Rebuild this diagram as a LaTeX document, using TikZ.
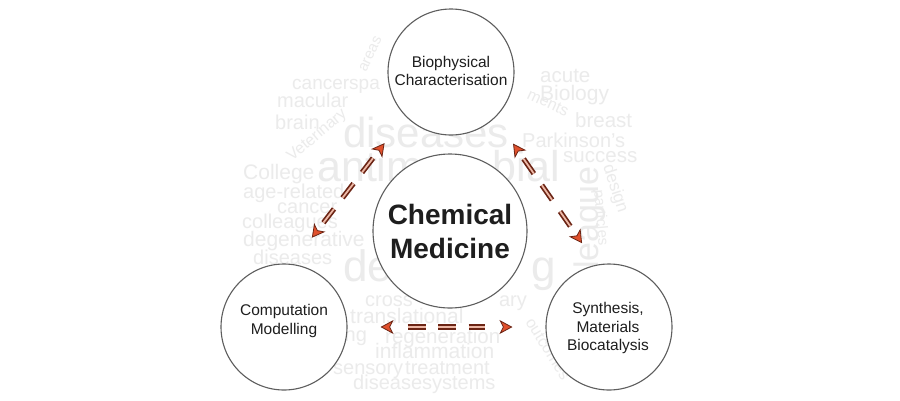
\documentclass[tikz,border=0pt]{standalone}
\usepackage{fontspec}
\setmainfont{Liberation Sans}
\usetikzlibrary{arrows.meta}
\definecolor{cloud}{HTML}{EBEBEB}
\definecolor{ring}{HTML}{5E5E5E}
\definecolor{arrowdark}{HTML}{6B2414}
\definecolor{arrowred}{HTML}{E0502C}
\definecolor{dashin}{HTML}{EDB8A6}
\definecolor{txt}{HTML}{1E1E1E}
\begin{document}
\begin{tikzpicture}[x=1pt,y=-1pt,
  word/.style={anchor=base west, inner sep=0pt, text=cloud, font=\fontsize{#1}{#1}\selectfont},
  wordend/.style={anchor=base east, inner sep=0pt, text=cloud, font=\fontsize{#1}{#1}\selectfont},
  bubble/.style={circle, draw=ring, fill=white, line width=1.1pt, inner sep=0pt, minimum size=126pt},
  smalltext/.style={align=center, text=txt, inner sep=0pt, font=\fontsize{15.5}{18.5}\selectfont},
  bigtext/.style={align=center, text=txt, inner sep=0pt, font=\bfseries\fontsize{28}{34}\selectfont},
  tips/.style={draw=arrowdark, line width=0.8pt, dash pattern=on 0pt off 2000pt,
    {Stealth[length=13pt,width=14pt,inset=3.5pt,fill=arrowred,color=arrowdark,line width=0.8pt]}-{Stealth[length=13pt,width=14pt,inset=3.5pt,fill=arrowred,color=arrowdark,line width=0.8pt]}},
  dashline/.style={draw=arrowdark, line width=1.7pt, double=dashin, double distance=1.8pt, line cap=butt}
]
\fill[white] (0,0) rectangle (900,400);
\useasboundingbox (0,0) rectangle (900,400);

% word cloud background
\node[word=15, rotate=65] (w1) at (366,73) {areas};
\node[word=19] (w2) at (292,89) {cancerspa};
\node[word=20] (w3) at (277,107) {macular};
\node[word=20] (w4) at (275,129) {brain};
\node[word=16, rotate=40] (w5) at (292,162) {Veterinary};
\node[word=42] (w6) at (343,147) {diseases};
\node[word=43] (w7) at (317,181) {antim};
\node[wordend=43] (w7b) at (560,181) {bial};
\node[word=21] (w8) at (243,179) {College};
\node[word=20] (w9) at (243,198) {age-related};
\node[word=20] (w10) at (277,213) {cancer};
\node[word=20] (w11) at (242,228) {colleagues};
\node[word=21] (w12) at (243,246) {degenerative};
\node[word=20] (w13) at (253,264) {diseases};
\node[word=20.5] (w14) at (540,82) {acute};
\node[word=21] (w15) at (540,100) {Biology};
\node[word=16, rotate=-25] (w16) at (526,98) {ments};
\node[word=20.5] (w17) at (575,127) {breast};
\node[word=20] (w18) at (522,147) {Parkinson's};
\node[word=20.5] (w19) at (563,162) {success};
\node[word=34, rotate=90] (w20) at (598,269) {league};
\node[word=17, rotate=-72] (w21) at (603,166) {design};
\node[word=15, rotate=-85] (w22) at (594,190) {particles};
\node[word=44] (w23) at (343,281) {de};
\node[wordend=44] (w23b) at (556,281) {g};
\node[word=20] (w24) at (365,306) {cross};
\node[wordend=20] (w24b) at (527,306) {ary};
\node[word=21] (w25) at (350,323) {translational};
\node[word=20] (w26) at (340,341) {ing};
\node[word=20.5] (w27) at (385,343) {regeneration};
\node[word=21] (w28) at (375,358) {inflammation};
\node[word=20] (w29) at (333,374) {sensory};
\node[word=20] (w30) at (405,374) {treatment};
\node[word=20] (w31) at (353,389) {diseasesystems};
\node[word=16, rotate=-58] (w32) at (525,322) {outcomes};

% circles
\node[bubble, minimum size=154pt] (cm) at (450,231) {};
\node[bigtext] (cmt) at (450,231) {Chemical\\Medicine};
\node[bubble] (top) at (451,72) {};
\node[smalltext] (topt) at (451,71) {Biophysical\\Characterisation};
\node[bubble] (left) at (284,327) {};
\node[smalltext] (leftt) at (284,321) {Computation\\Modelling};
\node[bubble] (right) at (609,327) {};
\node[smalltext] (rightt) at (608,328) {Synthesis,\\Materials\\Biocatalysis};

% connectors: dashed double bodies
\draw[dashline, dash pattern=on 18pt off 14pt, shorten <=53pt, shorten >=52pt] (top.224) -- (left.83);
\draw[dashline, dash pattern=on 18pt off 14pt, shorten <=50pt, shorten >=45pt] (top.314) -- (right.101);
\draw[dashline, dash pattern=on 18pt off 12.5pt, shorten <=60pt, shorten >=60pt] (left.0) -- (right.180);
% connectors: arrow tips
\draw[tips, shorten <=34pt, shorten >=33pt] (top.224) -- (left.83);
\draw[tips, shorten <=31.5pt, shorten >=26pt] (top.314) -- (right.101);
\draw[tips, shorten <=33pt, shorten >=33pt] (left.0) -- (right.180);
\end{tikzpicture}
\end{document}
